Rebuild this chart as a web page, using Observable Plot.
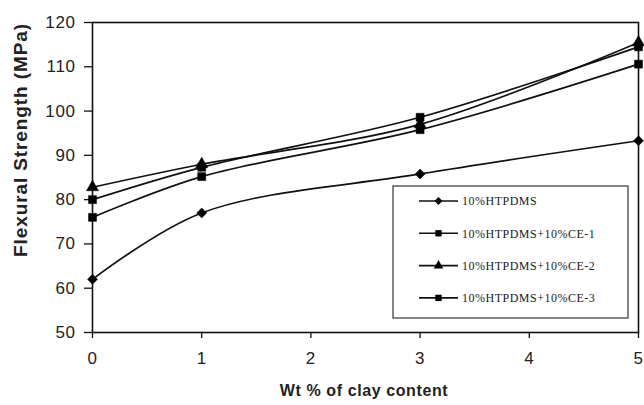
<!DOCTYPE html>
<html><head><meta charset="utf-8">
<script src="https://cdn.jsdelivr.net/npm/d3@7"></script>
<script src="https://cdn.jsdelivr.net/npm/@observablehq/plot@0.6"></script>
<style>body{margin:0;background:#fff;} #chart{position:relative;width:644px;height:405px;}</style>
</head><body><div id="chart"></div>
<script>
const clay = [0, 1, 3, 5];
const htpdms = [62, 77, 85.8, 93.3];
const ce1 = [76, 85.2, 95.8, 110.6];
const ce2 = [82.8, 88, 97, 115.5];
const ce3 = [80, 87.3, 98.6, 114.5];
const seriesNames = ["10%HTPDMS", "10%HTPDMS+10%CE-1", "10%HTPDMS+10%CE-2", "10%HTPDMS+10%CE-3"];
const seriesSymbols = ["diamond2", "square", "triangle", "square"];
const yTicks = [50, 60, 70, 80, 90, 100, 110, 120];
const xTicks = [0, 1, 2, 3, 4, 5];
const xTitle = "Wt % of clay content";
const yTitle = "Flexural Strength (MPa)";

const rows = [];
[htpdms, ce1, ce2, ce3].forEach((vals, i) =>
  vals.forEach((v, j) => rows.push({series: seriesNames[i], x: clay[j], y: v})));

const W = 644, H = 405, mL = 92, mR = 6, mT = 22, mB = 73;
const plot = Plot.plot({
  width: W, height: H,
  marginLeft: mL, marginRight: mR, marginTop: mT, marginBottom: mB,
  style: {fontFamily: "Liberation Sans, Arial, sans-serif", color: "#222", background: "#fff"},
  x: {domain: [0, 5]},
  y: {domain: [50, 120]},
  symbol: {domain: seriesNames, range: seriesSymbols},
  marks: [
    Plot.frame({stroke: "#111", strokeWidth: 1.6}),
    Plot.axisX({ticks: xTicks, tickFormat: d3.format("d"), tickSize: 6, tickPadding: 13, fontSize: 17, label: null, stroke: "#111", strokeWidth: 1.3, fill: "#222"}),
    Plot.axisY({ticks: yTicks, tickFormat: d3.format("d"), tickSize: 8, tickPadding: 9, fontSize: 17, label: null, stroke: "#111", strokeWidth: 1.3, fill: "#222"}),
    Plot.line(rows, {x: "x", y: "y", z: "series", curve: "catmull-rom", stroke: "#111", strokeWidth: 1.7}),
    Plot.dot(rows, {x: "x", y: "y", symbol: "series", fill: "#000", stroke: "#000", strokeWidth: 0.5, r: 4.5})
  ]
});
document.getElementById("chart").appendChild(plot);

const svg = d3.select(plot);
svg.selectAll("g[aria-label='x-axis tick label'] text, g[aria-label='y-axis tick label'] text")
  .style("letter-spacing", "0.6px");

// axis titles
svg.append("text").attr("x", 364).attr("y", 396).attr("text-anchor", "middle")
  .attr("font-size", 16).attr("font-weight", "bold").attr("fill", "#222")
  .style("letter-spacing", "0.6px").text(xTitle);
svg.append("text").attr("transform", "translate(27,140) rotate(-90)").attr("text-anchor", "middle")
  .attr("font-size", 19).attr("font-weight", "bold").attr("fill", "#222")
  .style("letter-spacing", "0.9px").text(yTitle);

// legend
const lg = svg.append("g");
lg.append("rect").attr("x", 393).attr("y", 186).attr("width", 235).attr("height", 132)
  .attr("fill", "#fff").attr("stroke", "#333").attr("stroke-width", 1.2);
const symMap = {diamond2: d3.symbolDiamond2, square: d3.symbolSquare, triangle: d3.symbolTriangle};
seriesNames.forEach((name, i) => {
  const cy = 201 + i * 32.3;
  const g = lg.append("g");
  g.append("line").attr("x1", 419).attr("x2", 458).attr("y1", cy).attr("y2", cy)
    .attr("stroke", "#111").attr("stroke-width", 1.6);
  g.append("path").attr("transform", `translate(438.5,${cy})`)
    .attr("d", d3.symbol(symMap[seriesSymbols[i]], 40)()).attr("fill", "#000");
  g.append("text").attr("x", 462).attr("y", cy).attr("dy", "0.35em").attr("text-anchor", "start")
    .attr("font-family", "Liberation Serif, Times New Roman, serif").attr("font-size", 12)
    .style("letter-spacing", "0.5px").attr("fill", "#222").text(name);
});
</script></body></html>
